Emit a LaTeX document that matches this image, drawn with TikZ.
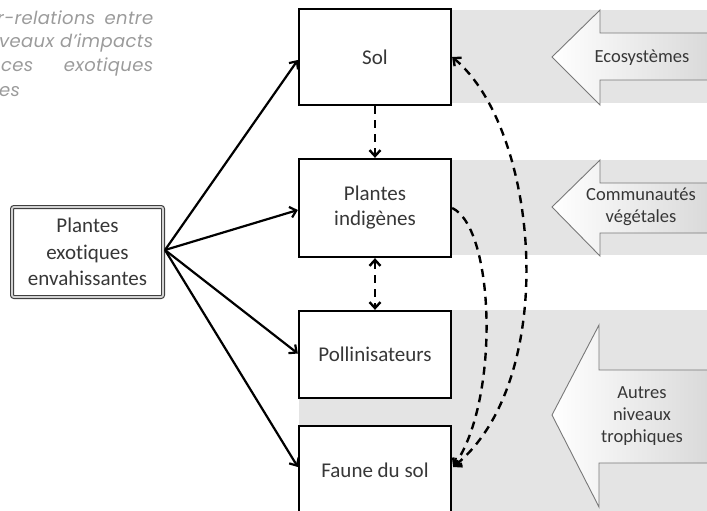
\documentclass[tikz,border=0pt]{standalone}
\usepackage{fontspec}
\setmainfont{Carlito}[Ligatures={NoCommon}]
\newfontfamily\titlefont{Poppins}[LetterSpace=2]
\usetikzlibrary{arrows.meta,calc}
\definecolor{bandgray}{RGB}{228,228,228}
\definecolor{boxtext}{RGB}{55,55,55}
\definecolor{titlegray}{RGB}{155,155,155}
\definecolor{arrowline}{RGB}{120,120,120}
\tikzset{
  levelbox/.style={draw=black, line width=2.3pt, fill=white, minimum width=152pt,
    text=boxtext, font=\fontsize{21}{25}\selectfont, align=center, inner sep=0pt},
  exobox/.style={draw=black!75, double=gray!35, double distance=1.8pt, line width=1.1pt,
    rounded corners=2pt, fill=white, minimum width=151pt, minimum height=90pt,
    text=boxtext, font=\fontsize{21}{26.5}\selectfont, align=center, inner sep=0pt},
  impact/.style={line width=2.2pt, -{Straight Barb[length=6pt,width=11pt]}},
  dashlink/.style={line width=2.4pt, dash pattern=on 8pt off 6pt, {Straight Barb[length=6pt,width=11pt]}-{Straight Barb[length=6pt,width=11pt]}},
  dashone/.style={line width=2.4pt, dash pattern=on 8pt off 6pt, -{Straight Barb[length=6pt,width=11pt]}},
  bigarrow/.style={left color=white, right color=gray!30, draw=arrowline, line width=0.9pt},
  arrowlabel/.style={text=boxtext, font=\fontsize{18.5}{22}\selectfont, align=center, inner sep=0pt},
  titleline/.style={text=titlegray, font=\titlefont\itshape\fontsize{18}{23}\selectfont, inner sep=0pt, anchor=base west}
}
\begin{document}
\begin{tikzpicture}[x=1pt,y=-1pt]
\useasboundingbox (0,0) rectangle (707,511);
\clip (0,0) rectangle (707,511);
% grey bands
\fill[bandgray] (451,10) rectangle (707,103);
\fill[bandgray] (451,160) rectangle (707,255);
\fill[bandgray] (299,310) rectangle (707,511);
% big arrows
\path[bigarrow] (712,33) -- (600,33) -- (600,10) -- (552,57) -- (600,105) -- (600,80) -- (712,80);
\path[bigarrow] (712,183) -- (600,183) -- (600,160) -- (552,207) -- (600,256) -- (600,233) -- (712,233);
\path[bigarrow] (712,370) -- (599,370) -- (599,325) -- (552,415) -- (599,507) -- (599,463) -- (712,463);
\node[arrowlabel] (lecosys) at (642,58) {Ecosystèmes};
\node[arrowlabel] (lcomm) at (641,207) {Communautés\\végétales};
\node[arrowlabel] (lautres) at (642,416) {Autres\\niveaux\\trophiques};
% title text (cut at left edge)
\node[titleline] (t1) at (-3,25) {\makebox[156pt][s]{r-relations entre}};
\node[titleline] (t2) at (-1,48) {\makebox[154pt][s]{veaux d’impacts}};
\node[titleline] (t3) at (1,72) {\makebox[152pt][s]{ces exotiques}};
\node[titleline] (t4) at (-1,96) {es};
% level boxes
\node[levelbox, minimum height=96pt] (sol) at (375,57) {Sol};
\node[levelbox, minimum height=98pt] (plantes) at (375,208) {Plantes\\indigènes};
\node[levelbox, minimum height=87pt] (poll) at (375,354.5) {Pollinisateurs};
\node[levelbox, minimum height=88pt] (faune) at (375,470) {Faune du sol};
% exotic box
\node[exobox] (exo) at (87.5,252) {Plantes\\exotiques\\envahissantes};
% solid arrows
\coordinate (src) at (165,250);
\draw[impact] (src) -- ($(sol.west)+(0,3)$);
\draw[impact] (src) -- ($(plantes.west)+(0,2)$);
\draw[impact] (src) -- ($(poll.west)+(0,-1)$);
\draw[impact] (src) -- ($(faune.west)+(0,-3)$);
% dashed links
\draw[dashone] (sol.south) -- (plantes.north);
\draw[dashlink] (plantes.south) -- (poll.north);
\coordinate (fauneend) at ($(faune.east)+(1,-3)$);
\draw[dashlink] (sol.east) .. controls (540,130) and (560,380) .. (fauneend);
\draw[dashone] (plantes.east) .. controls (495,228) and (500,400) .. (fauneend);
\end{tikzpicture}
\end{document}
